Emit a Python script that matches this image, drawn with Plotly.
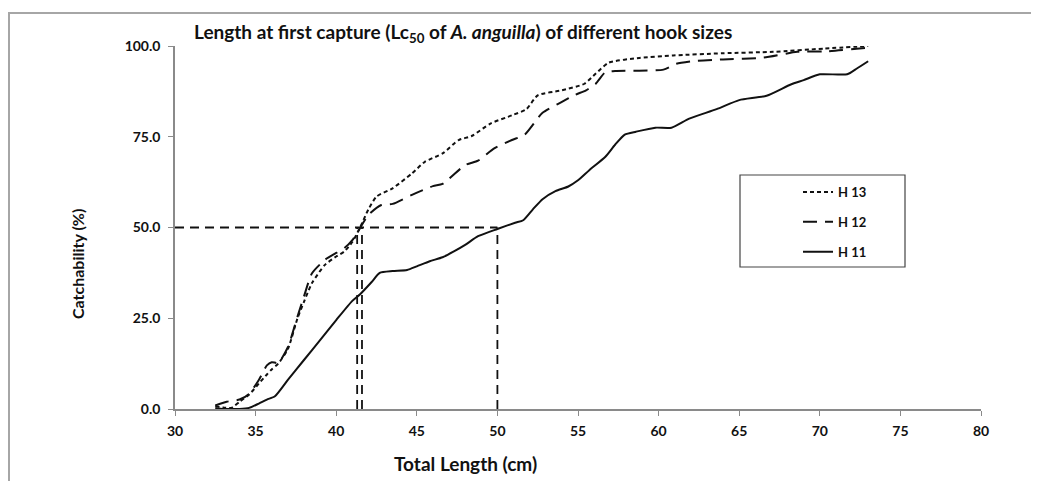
import plotly.graph_objects as go

# ---- data ----
h13_x = [32.5, 33.0, 33.5, 34.0, 34.6, 35.2, 35.7, 36.0, 36.4, 37.0, 37.6, 38.0, 38.5, 39.3, 40.0, 40.5,
         41.0, 41.5, 42.0, 42.5, 43.5, 44.7, 45.5, 46.6, 47.6, 48.4, 49.6, 50.9, 51.8, 52.5, 54.0, 55.4,
         56.1, 56.9, 58.8, 60.9, 64.0, 67.1, 70.3, 73.0]
h13_y = [0.8, 0.4, 0.3, 2.0, 4.0, 7.0, 9.5, 10.9, 12.5, 16.5, 25.0, 29.5, 34.7, 39.7, 42.0, 43.4,
         46.0, 50.2, 55.0, 58.5, 60.8, 64.9, 68.1, 70.4, 74.1, 75.2, 78.7, 80.9, 82.6, 86.4, 87.8, 89.6,
         92.4, 95.4, 96.7, 97.4, 98.0, 98.4, 99.3, 100.0]

h12_x = [32.5, 33.2, 34.0, 34.6, 35.2, 35.7, 36.0, 36.4, 37.0, 37.6, 38.0, 38.5, 39.3, 40.0, 40.5,
         41.0, 41.5, 42.0, 42.8, 43.5, 44.7, 46.0, 46.6, 48.0, 48.8, 49.8, 50.9, 51.7, 52.8, 54.0, 54.8,
         55.5, 56.1, 56.7, 57.3, 60.3, 61.1, 62.3, 64.0, 66.5, 68.6, 70.3, 73.0]
h12_y = [1.0, 2.0, 2.6, 4.2, 8.0, 12.0, 12.9, 12.7, 17.0, 25.5, 31.0, 37.4, 41.1, 43.0, 44.3,
         46.5, 50.0, 53.5, 56.2, 56.5, 59.0, 61.4, 62.0, 67.2, 68.4, 71.8, 74.1, 75.6, 81.6, 84.6, 86.5,
         87.8, 89.6, 92.8, 93.1, 93.5, 95.1, 95.9, 96.3, 96.8, 98.4, 98.5, 99.5]

h11_x = [32.5, 33.0, 33.5, 34.0, 34.6, 35.2, 35.7, 36.2, 37.0, 38.0, 39.0, 40.0, 41.0, 41.5, 42.2,
         42.7, 43.5, 44.4, 45.0, 45.8, 46.6, 47.3, 48.0, 48.8, 50.0, 51.1, 51.6, 52.2, 52.8, 53.6, 54.4,
         55.0, 55.7, 56.7, 57.3, 57.9, 58.6, 59.8, 60.8, 61.9, 63.6, 65.0, 66.7, 68.2, 69.0, 70.0, 71.7,
         72.3, 73.0]
h11_y = [0.3, 0.0, 0.0, 0.0, 0.3, 1.5, 2.6, 3.5, 8.0, 13.5, 19.0, 24.5, 29.8, 31.7, 35.0,
         37.5, 38.0, 38.3, 39.3, 40.7, 41.8, 43.4, 45.2, 47.6, 49.6, 51.3, 52.0, 55.0, 57.8, 60.0, 61.3,
         63.0, 65.8, 69.5, 72.8, 75.6, 76.4, 77.5, 77.5, 80.0, 82.6, 85.1, 86.3, 89.4, 90.6, 92.2, 92.2,
         93.8, 95.8]

lc50_values = [41.3, 41.6, 50.0]   # Lc50 of each hook size (cm)
lc_level = 50.0                     # catchability level (%)
x_ticks = [30, 35, 40, 45, 50, 55, 60, 65, 70, 75, 80]
y_ticks = [0, 25, 50, 75, 100]
y_ticklabels = ["0.0", "25.0", "50.0", "75.0", "100.0"]

FONT = "Lato, Open Sans, sans-serif"
INK = "#111111"
AXIS = "#8a8a8a"

fig = go.Figure()

series = [
    ("H 13", h13_x, h13_y, "4px,3px"),
    ("H 12", h12_x, h12_y, "14px,8px"),
    ("H 11", h11_x, h11_y, "solid"),
]
for name, xs, ys, dash in series:
    fig.add_trace(go.Scatter(
        x=xs, y=ys, mode="lines", name=name, legendgroup=name,
        line=dict(color=INK, width=2, dash=dash, shape="spline", smoothing=0.6),
    ))

# reference lines for Lc50
ref_x = [min(x_ticks), max(lc50_values)]
fig.add_trace(go.Scatter(x=ref_x, y=[lc_level, lc_level], mode="lines", showlegend=False,
                         line=dict(color=INK, width=1.8, dash="9px,6px")))
for v in lc50_values:
    fig.add_trace(go.Scatter(x=[v, v], y=[0, lc_level], mode="lines", showlegend=False,
                             line=dict(color=INK, width=1.8, dash="9px,6px")))

# page body has an 8px margin; figure coordinates = screen coordinates - 8
OFF = 8
W, H = 1023, 473
L, R, T, B = 167, 50, 38, 72
pw, ph = W - L - R, H - T - B

def px(xs):
    return (xs - OFF - L) / pw

def py(ys):
    return (H - B - (ys - OFF)) / ph

fig.update_layout(
    width=W, height=H,
    margin=dict(l=L, r=R, t=T, b=B),
    paper_bgcolor="white", plot_bgcolor="white",
    font=dict(family=FONT, color=INK),
    showlegend=True,
    legend=dict(x=px(798), y=py(177), xanchor="left", yanchor="top",
                bgcolor="rgba(0,0,0,0)", borderwidth=0, tracegroupgap=10,
                font=dict(size=13, family=FONT, color=INK, weight="bold")),
    xaxis=dict(range=[30, 80], tickvals=x_ticks, showline=True, linecolor=AXIS, linewidth=1.5,
               ticks="outside", ticklen=5, tickcolor=AXIS, showgrid=False, zeroline=False,
               tickfont=dict(size=14, family=FONT, color=INK, weight="bold"), ticklabelstandoff=3),
    yaxis=dict(range=[0, 100], tickvals=y_ticks, ticktext=y_ticklabels, showline=True,
               linecolor=AXIS, linewidth=1.5, ticks="outside", ticklen=5, tickcolor=AXIS,
               showgrid=False, zeroline=False,
               tickfont=dict(size=14, family=FONT, color=INK, weight="bold"), ticklabelstandoff=5),
    shapes=[
        # outer frame (cropped at right and bottom)
        dict(type="rect", xref="paper", yref="paper", x0=px(9), x1=px(1070), y0=py(530), y1=py(13),
             line=dict(color="#a6a6a6", width=2), layer="below"),
        # legend box
        dict(type="rect", xref="paper", yref="paper", x0=px(740), x1=px(905), y0=py(267), y1=py(175),
             line=dict(color="#444444", width=1.2)),
    ],
    annotations=[
        dict(text="<b>Length at first capture (Lc<sub>50</sub> of <i>A. anguilla</i>) of different hook sizes</b>",
             xref="paper", yref="paper", x=px(192), y=py(33), xanchor="left", yanchor="middle",
             showarrow=False, font=dict(size=19, family=FONT, color=INK)),
        dict(text="<b>Total Length (cm)</b>", xref="paper", yref="paper", x=px(465), y=py(463),
             xanchor="center", yanchor="middle", showarrow=False,
             font=dict(size=19, family=FONT, color=INK)),
        dict(text="<b>Catchability (%)</b>", xref="paper", yref="paper", x=px(77), y=py(264),
             xanchor="center", yanchor="middle", textangle=-90, showarrow=False,
             font=dict(size=16, family=FONT, color=INK)),
    ],
)

fig.write_html("out.html")
